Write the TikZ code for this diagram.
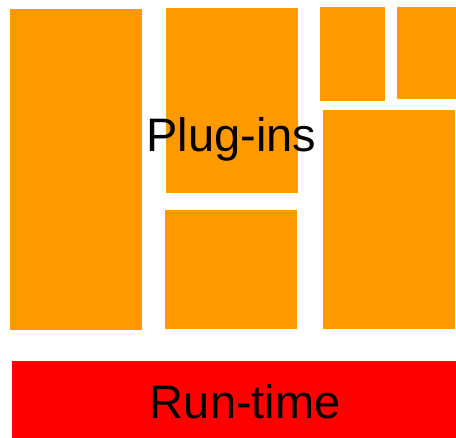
\documentclass[tikz,border=0pt]{standalone}
\usepackage{fontspec}
\setmainfont{Liberation Sans}
\definecolor{plugorange}{HTML}{FF9900}
\definecolor{runred}{HTML}{FF0000}
\begin{document}
\begin{tikzpicture}[x=1pt,y=-1pt,
  plug/.style={fill=plugorange,draw=none},
  run/.style={fill=runred,draw=none},
  lbl/.style={font=\fontsize{47}{50}\selectfont,inner sep=0pt,anchor=base,text=black}]
\useasboundingbox (0,0) rectangle (456,438);
\fill[plug] (10,9) rectangle (142,330.5) coordinate (b1);
\fill[plug] (166,7.7) rectangle (298.3,193) coordinate (b2);
\fill[plug] (165.3,210.3) rectangle (297,328.7) coordinate (b3);
\fill[plug] (320.3,6.7) rectangle (385,100.7) coordinate (b4);
\fill[plug] (397,7) rectangle (455.5,99) coordinate (b5);
\fill[plug] (323.3,110) rectangle (455,328.7) coordinate (b6);
\fill[run] (12,361) rectangle (456,438) coordinate (rt);
\node[lbl] (plugins) at (231.3,151.7) {Plug-ins};
\node[lbl] (runtime) at (245.3,418.3) {Run-time};
\end{tikzpicture}
\end{document}
